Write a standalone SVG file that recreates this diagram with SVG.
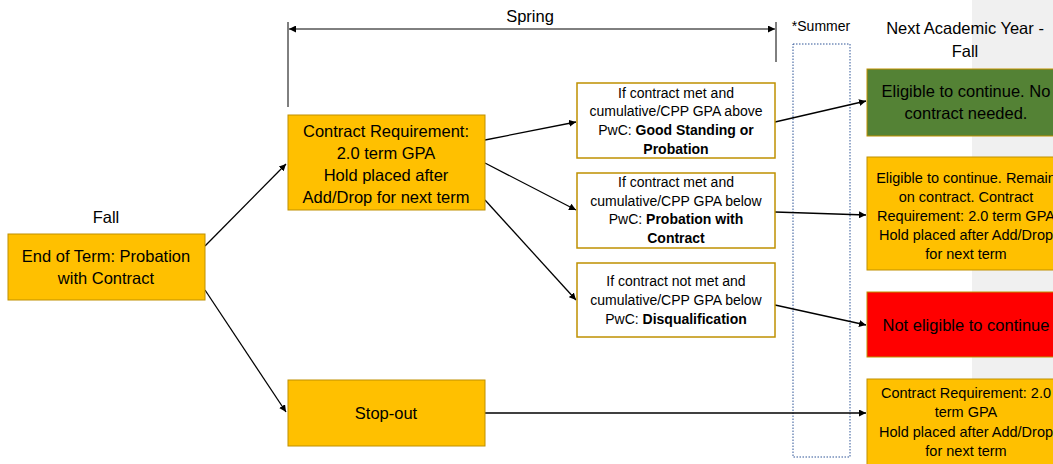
<svg xmlns="http://www.w3.org/2000/svg" width="1053" height="464" viewBox="0 0 1053 464">
<defs>
<marker id="ah" viewBox="0 0 10 10" refX="10" refY="5" markerWidth="7" markerHeight="7" markerUnits="userSpaceOnUse" orient="auto-start-reverse"><path d="M0,0 L10,5 L0,10 z" fill="#000"/></marker>
<style>
text{font-family:"Liberation Sans",Arial,sans-serif;fill:#000;text-anchor:middle}
.l{font-size:16.5px}
.s{font-size:14px}
.m{font-size:14.5px}
.b{font-weight:bold}
.y{fill:#ffc000;stroke:#bf9000;stroke-width:1}
.w{fill:#fff;stroke:#bf9000;stroke-width:1.5}
.c{stroke:#000;stroke-width:1.3;fill:none;marker-end:url(#ah)}
</style>
</defs>
<rect width="1053" height="464" fill="#fff"/>
<rect x="972" y="0" width="81" height="464" fill="#f0f0f0"/>
<g id="labels">
<text class="l" x="106" y="223">Fall</text>
<text class="l" x="530" y="22">Spring</text>
<text class="s" x="821" y="31">*Summer</text>
<text class="l" x="965" y="34">Next Academic Year -</text>
<text class="l" x="965" y="57">Fall</text>
</g>
<g id="spring-span">
<line x1="288" y1="22" x2="288" y2="107" stroke="#000" stroke-width="1"/>
<line x1="776" y1="22" x2="776" y2="62" stroke="#000" stroke-width="1"/>
<line x1="289" y1="29" x2="775" y2="29" stroke="#000" stroke-width="1" marker-start="url(#ah)" marker-end="url(#ah)"/>
</g>
<g id="summer"><rect x="793" y="44" width="57" height="413" fill="none" stroke="#2f5597" stroke-width="1" stroke-dasharray="1.5 1.5"/></g>
<g id="connectors">
<line class="c" x1="205" y1="246" x2="286" y2="164"/>
<line class="c" x1="205" y1="290" x2="286" y2="412"/>
<line class="c" x1="485" y1="140" x2="576" y2="122"/>
<line class="c" x1="485" y1="163" x2="576" y2="210"/>
<line class="c" x1="485" y1="200" x2="576" y2="300"/>
<line class="c" x1="775" y1="122" x2="866" y2="101"/>
<line class="c" x1="775" y1="212" x2="866" y2="215"/>
<line class="c" x1="775" y1="305" x2="866" y2="325"/>
<line class="c" x1="485" y1="413" x2="866" y2="413"/>
</g>
<g id="fall"><rect class="y" x="8" y="234" width="197" height="66"/><text class="l" x="106" y="262">End of Term: Probation</text><text class="l" x="106" y="284">with Contract</text></g>
<g id="contract"><rect class="y" x="288" y="115" width="197" height="95"/><text class="l" x="386" y="137">Contract Requirement:</text><text class="l" x="386" y="159">2.0 term GPA</text><text class="l" x="386" y="181">Hold placed after</text><text class="l" x="386" y="203">Add/Drop for next term</text></g>
<g id="stopout"><rect class="y" x="288" y="380" width="197" height="66"/><text class="l" x="386" y="419">Stop-out</text></g>
<g id="good"><rect class="w" x="577" y="83" width="198" height="75"/><text class="s" x="676" y="98">If contract met and</text><text class="s" x="676" y="116">cumulative/CPP GPA above</text><text class="s" x="676" y="135">PwC:  <tspan class="b">Good Standing or</tspan></text><text class="s b" x="676" y="154">Probation</text></g>
<g id="pwc"><rect class="w" x="577" y="173" width="198" height="75"/><text class="s" x="676" y="187">If contract met and</text><text class="s" x="676" y="206">cumulative/CPP GPA below</text><text class="s" x="676" y="224">PwC:  <tspan class="b">Probation with</tspan></text><text class="s b" x="676" y="243">Contract</text></g>
<g id="disq"><rect class="w" x="577" y="263" width="198" height="74"/><text class="s" x="676" y="286">If contract not met and</text><text class="s" x="676" y="305">cumulative/CPP GPA below</text><text class="s" x="676" y="324">PwC:  <tspan class="b">Disqualification</tspan></text></g>
<g id="eligible"><rect class="y" x="867" y="69" width="197" height="67" style="fill:#548235"/><text class="l" x="966" y="97">Eligible to continue. No</text><text class="l" x="966" y="119">contract needed.</text></g>
<g id="remain"><rect class="y" x="867" y="157" width="197" height="113"/><text class="m" x="966" y="183">Eligible to continue. Remain</text><text class="m" x="966" y="202">on contract. Contract</text><text class="m" x="966" y="221">Requirement: 2.0 term GPA</text><text class="m" x="966" y="240">Hold placed after Add/Drop</text><text class="m" x="966" y="259">for next term</text></g>
<g id="noteligible"><rect class="y" x="867" y="292" width="197" height="65" style="fill:#ff0000"/><text class="l" x="966" y="331">Not eligible to continue</text></g>
<g id="stopnext"><rect class="y" x="867" y="379" width="197" height="90"/><text class="m" x="966" y="398">Contract Requirement: 2.0</text><text class="m" x="966" y="417">term GPA</text><text class="m" x="966" y="437">Hold placed after Add/Drop</text><text class="m" x="966" y="456">for next term</text></g>
</svg>
